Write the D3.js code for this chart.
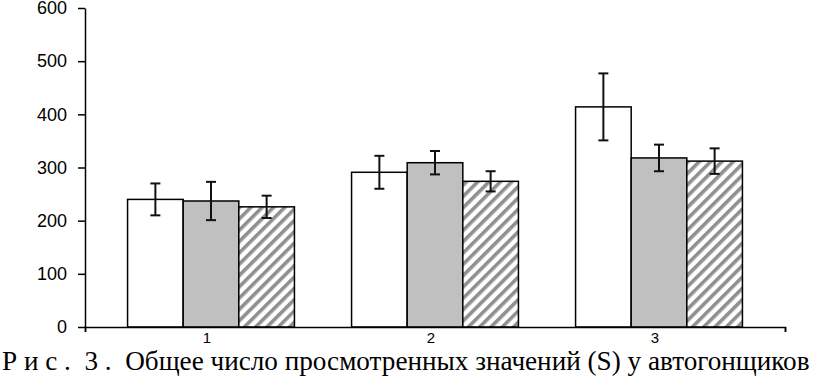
<!DOCTYPE html>
<html>
<head>
<meta charset="utf-8">
<script src="https://cdn.jsdelivr.net/npm/d3@7"></script>
<style>
  body { margin: 0; background: #fff; }
  svg { display: block; }
  .caption { font-family: "Liberation Serif", "DejaVu Serif", "Times New Roman", serif; }
</style>
</head>
<body>
<div id="chart"></div>
<script>
// data
const groups = ["1", "2", "3"];
const seriesKeys = ["a", "b", "c"];
const valuesA = [240, 291, 414];
const valuesB = [237, 309, 318];
const valuesC = [226, 274, 312];
const errorsA = [30, 31, 63];
const errorsB = [36, 22, 25];
const errorsC = [21, 19, 24];
const yTicks = [0, 100, 200, 300, 400, 500, 600];
const caption = "Р и с .  3 .  Общее число просмотренных значений (S) у автогонщиков";

const width = 814;
const height = 386;
const plot = {left: 85, right: 785, top: 8, bottom: 327};

const svg = d3.select("#chart").append("svg")
    .attr("width", width)
    .attr("height", height);

// hatch pattern for third series
const defs = svg.append("defs");
const pat = defs.append("pattern")
    .attr("id", "hatch")
    .attr("patternUnits", "userSpaceOnUse")
    .attr("width", 8)
    .attr("height", 8)
    .attr("patternTransform", "rotate(45)");
pat.append("rect").attr("width", 8).attr("height", 8).attr("fill", "#fff");
pat.append("rect").attr("x", 0).attr("width", 3.6).attr("height", 8).attr("fill", "#8f8f8f");

const rows = groups.map((g, i) => ({
    group: g,
    items: [
        {key: "a", value: valuesA[i], err: errorsA[i]},
        {key: "b", value: valuesB[i], err: errorsB[i]},
        {key: "c", value: valuesC[i], err: errorsC[i]}
    ]
}));

const fills = {a: "#ffffff", b: "#c0c0c0", c: "url(#hatch)"};

const x0 = d3.scaleBand()
    .domain(groups)
    .range([plot.left + 14, plot.right - 14])
    .paddingInner(0.255)
    .paddingOuter(0.1275);

const x1 = d3.scaleBand()
    .domain(seriesKeys)
    .range([0, x0.bandwidth()])
    .padding(0);

const y = d3.scaleLinear()
    .domain([0, 600])
    .range([plot.bottom, plot.top]);

// bars
const g = svg.append("g")
    .selectAll("g")
    .data(rows)
    .join("g")
    .attr("transform", d => `translate(${x0(d.group)},0)`);

g.selectAll("rect")
    .data(d => d.items)
    .join("rect")
    .attr("x", d => x1(d.key))
    .attr("y", d => y(d.value))
    .attr("width", x1.bandwidth())
    .attr("height", d => y(0) - y(d.value))
    .attr("fill", d => fills[d.key])
    .attr("stroke", "#000")
    .attr("stroke-width", 1.5);

// error bars
const eb = g.selectAll("g.err")
    .data(d => d.items)
    .join("g")
    .attr("class", "err")
    .attr("stroke", "#111")
    .attr("stroke-width", 2);

eb.append("line")
    .attr("x1", d => x1(d.key) + x1.bandwidth() / 2)
    .attr("x2", d => x1(d.key) + x1.bandwidth() / 2)
    .attr("y1", d => y(d.value + d.err))
    .attr("y2", d => y(d.value - d.err));

eb.selectAll("line.cap")
    .data(d => [{d, v: d.value + d.err}, {d, v: d.value - d.err}])
    .join("line")
    .attr("class", "cap")
    .attr("x1", c => x1(c.d.key) + x1.bandwidth() / 2 - 5)
    .attr("x2", c => x1(c.d.key) + x1.bandwidth() / 2 + 5)
    .attr("y1", c => y(c.v))
    .attr("y2", c => y(c.v));

// y axis
const yAxis = svg.append("g")
    .attr("transform", `translate(${plot.left},0)`)
    .call(d3.axisLeft(y).tickValues(yTicks).tickSize(7).tickPadding(11).tickSizeOuter(0));
yAxis.select(".domain").attr("stroke", "#000").attr("stroke-width", 1.5);
yAxis.selectAll(".tick line").attr("stroke", "#000").attr("stroke-width", 1.5);
yAxis.selectAll("text")
    .attr("font-family", "'Liberation Sans', Arial, sans-serif")
    .attr("font-size", 18)
    .attr("fill", "#000");

// x axis
const xAxisLine = d3.scaleLinear().domain([0, 1]).range([plot.left, plot.right]);
const xEdge = svg.append("g")
    .attr("transform", `translate(0,${plot.bottom})`)
    .call(d3.axisBottom(xAxisLine).tickValues([0, 1]).tickSize(5).tickFormat(""));
xEdge.select(".domain").attr("stroke", "#000").attr("stroke-width", 1.5);
xEdge.selectAll(".tick line").attr("stroke", "#000").attr("stroke-width", 1.5);

const xAxis = svg.append("g")
    .attr("transform", `translate(-4,${plot.bottom})`)
    .call(d3.axisBottom(x0).tickSize(0).tickPadding(5));
xAxis.select(".domain").remove();
xAxis.selectAll("text")
    .attr("font-family", "'Liberation Sans', Arial, sans-serif")
    .attr("font-size", 15)
    .attr("fill", "#000");

// caption
const cap = svg.append("text")
    .attr("class", "caption")
    .attr("x", 0)
    .attr("y", 0)
    .attr("font-size", 27)
    .attr("fill", "#000")
    .style("white-space", "pre")
    .text(caption);
const capW = cap.node().getComputedTextLength();
cap.attr("transform", `translate(2,${height - 16}) scale(${808 / capW},1)`);
</script>
</body>
</html>
